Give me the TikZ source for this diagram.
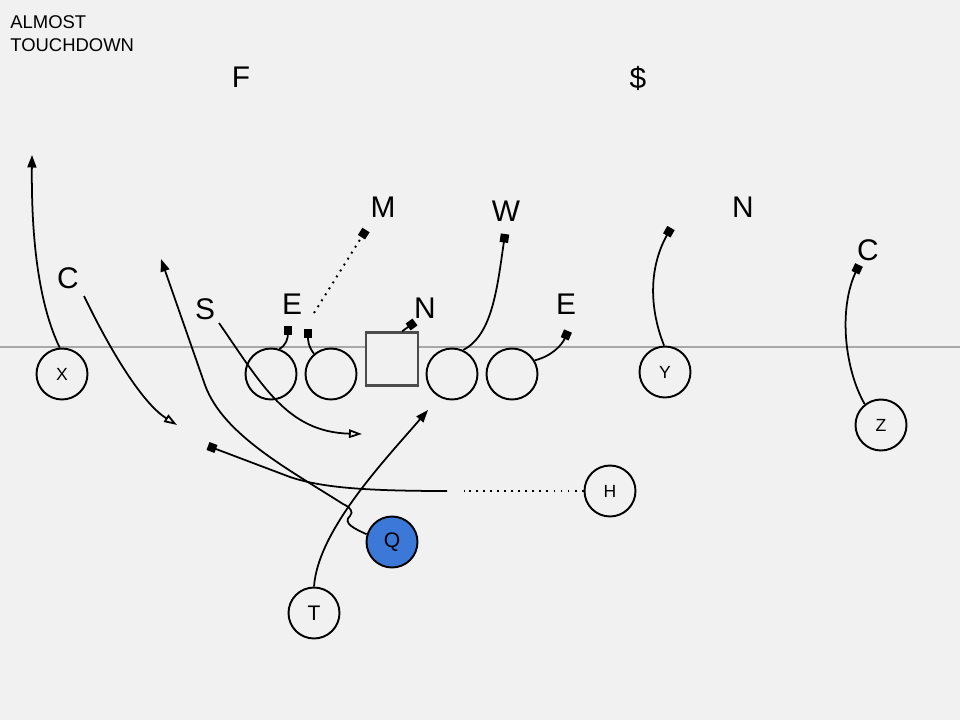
\documentclass[tikz,border=0pt]{standalone}
\usepackage{fontspec}
\setmainfont{Liberation Sans}
\usetikzlibrary{arrows.meta}
\definecolor{bg}{HTML}{F1F1F1}
\definecolor{qblue}{HTML}{3C78D8}
\definecolor{los}{HTML}{A8A8A8}
\tikzstyle{pl}=[fill=bg, draw=black, shape=circle, line width=1.1pt, minimum size=1.02cm, inner sep=0pt, font=\fontsize{10}{12}\selectfont]
\tikzstyle{bk}=[pl, font=\fontsize{12}{14}\selectfont]
\tikzstyle{dl}=[inner sep=0pt, font=\fontsize{17}{20}\selectfont]
\tikzstyle{run}=[line width=1pt, -{Triangle[length=2.5mm, width=1.8mm]}]
\tikzstyle{opn}=[line width=1pt, -{Triangle[open, length=2.6mm, width=1.7mm]}]
\tikzstyle{blk}=[line width=1pt, -{Square[length=1.7mm, width=1.7mm]}]
\tikzstyle{dots}=[line width=1.1pt, dash pattern=on 1.1pt off 2.9pt]

\begin{document}
\begin{tikzpicture}[x=0.02cm, y=-0.02cm]
	\useasboundingbox[fill=bg] (0,0) rectangle (960,720);
	\draw[los, line width=0.6pt] (0,347) -- (960,347);

	\node[align=left, anchor=north west, inner sep=0pt, font=\fontsize{10.5}{13}\selectfont] (ttl) at (10,15) {ALMOST\\TOUCHDOWN};

	\node[dl] (f) at (241,77) {F};
	\node[dl] (dol) at (638,78) {\$};
	\node[dl] (m) at (383,207) {M};
	\node[dl] (w) at (506,211) {W};
	\node[dl] (nr) at (743,207) {N};
	\node[dl] (cr) at (868,250) {C};
	\node[dl] (cl) at (68,278) {C};
	\node[dl] (s) at (205,309) {S};
	\node[dl] (el) at (292,304) {E};
	\node[dl] (nl) at (425,308) {N};
	\node[dl] (er) at (566,304) {E};

	\node[pl] (x) at (62,374) {X};
	\node[pl] (g1) at (271,374) {};
	\node[pl] (g2) at (331,374) {};
	\node[fill=bg, draw=black!70, line width=1.3pt, minimum width=1.04cm, minimum height=1.06cm, inner sep=0pt] (c0) at (392,359) {};
	\node[pl] (g3) at (452,374) {};
	\node[pl] (g4) at (512,374) {};
	\node[pl] (y) at (665,372) {Y};
	\node[pl] (z) at (881,425) {Z};
	\node[pl] (h) at (610,491) {H};
	\node[bk, fill=qblue] (q) at (392,542) {Q};
	\node[bk] (t) at (314,613) {T};

	\coordinate (xe) at (32,155);
	\coordinate (cs) at (84,296);
	\coordinate (cz) at (177,425);
	\coordinate (ss) at (219,323);
	\coordinate (sz) at (362,434);
	\coordinate (qe) at (161,259);
	\coordinate (te) at (428,410);
	\coordinate (hd) at (464,491);
	\coordinate (hs) at (447,491);
	\coordinate (hb) at (208,446);
	\coordinate (ms) at (314,313);
	\coordinate (mb) at (366,230);
	\coordinate (b1) at (288,326);
	\coordinate (b2) at (308,329);
	\coordinate (b3) at (415,322);
	\coordinate (b4) at (505,234);
	\coordinate (b5) at (671,228);
	\coordinate (b6) at (859,265);
	\coordinate (b7) at (568,331);

	\draw[run] (x.95) .. controls (44,315) and (31,260) .. (xe);
	\draw[opn] (cs) .. controls (115,360) and (145,405) .. (cz);
	\draw[opn] (ss) .. controls (262,385) and (287,432) .. (sz);
	\draw[run] (q.163) .. controls (355,529) and (342,523) .. (350,516) .. controls (354,512) and (350,507) .. (343,504) .. controls (290,470) and (223,435) .. (205,385) -- (qe);
	\draw[run] (t.90) .. controls (318,530) and (385,460) .. (te);
	\draw[dots] (h) -- (hd);
	\draw[blk] (hs) .. controls (360,491) and (320,487) .. (290,477) -- (hb);
	\draw[dots, -{Square[length=1.7mm, width=1.7mm]}] (ms) -- (mb);
	\draw[blk] (g1.72) .. controls (286,346) and (288,338) .. (b1);
	\draw[blk] (g2.130) .. controls (308,346) and (308,340) .. (b2);
	\draw[blk] (c0.70) -- (b3);
	\draw[blk] (g3.65) .. controls (492,335) and (497,290) .. (b4);
	\draw[blk] (g4.31) .. controls (552,356) and (562,345) .. (b7);
	\draw[blk] (y.92) .. controls (648,305) and (650,265) .. (b5);
	\draw[blk] (z.128) .. controls (845,370) and (838,310) .. (b6);
\end{tikzpicture}
\end{document}
